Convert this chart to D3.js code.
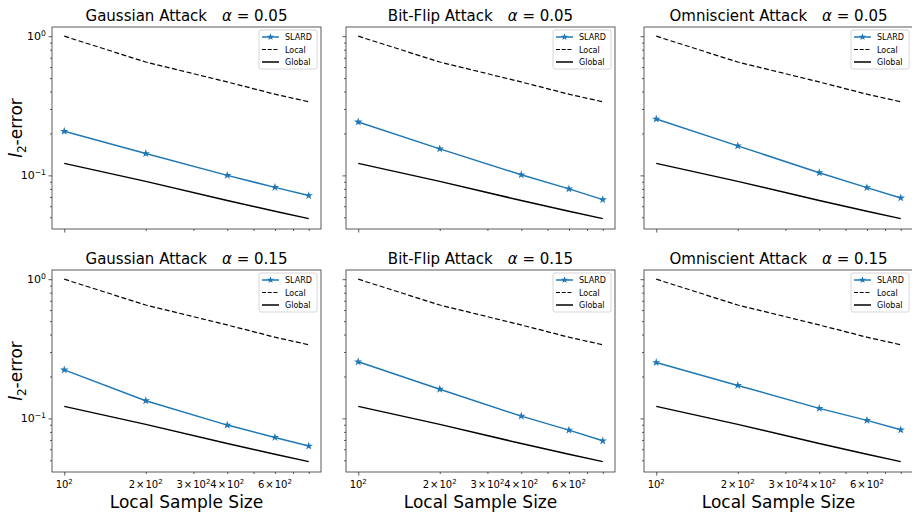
<!DOCTYPE html>
<meta charset="utf-8">
<style>
body { margin: 0; background: #fff; }
text { font-family: "DejaVu Sans", sans-serif; fill: #000; }
</style>
<body>
<script src="https://cdn.jsdelivr.net/npm/d3@7"></script>
<script>

var sampleSizes = [100, 200, 400, 600, 800];
var localErr = [1.0, 0.652, 0.469, 0.383, 0.338];
var globalErr = [0.122, 0.0906, 0.066, 0.0553, 0.0489];

var slardGaussian05 = [0.2075, 0.1436, 0.100, 0.082, 0.0716];
var slardBitFlip05 = [0.242, 0.155, 0.101, 0.080, 0.067];
var slardOmniscient05 = [0.254, 0.163, 0.1045, 0.0817, 0.0689];
var slardGaussian15 = [0.223, 0.134, 0.0895, 0.073, 0.0633];
var slardBitFlip15 = [0.255, 0.162, 0.1038, 0.0824, 0.069];
var slardOmniscient15 = [0.252, 0.1725, 0.118, 0.0968, 0.0828];

var attacks = ["Gaussian Attack", "Bit-Flip Attack", "Omniscient Attack"];
var alphas = ["0.05", "0.15"];
var legendLabels = ["SLARD", "Local", "Global"];

var xMinorTicks = [200, 300, 400, 500, 600, 700, 800];
var xTickLabels = [[100, "10", "2"], [200, "2\u200a\u00d7\u200a10", "2"], [300, "3\u200a\u00d7\u200a10", "2"],
                   [400, "4\u200a\u00d7\u200a10", "2"], [600, "6\u200a\u00d7\u200a10", "2"]];
var yMajorTicks = [0.1, 1];
var yTickLabels = [[1, "10", "0"], [0.1, "10", "\u22121"]];
var yMinorTicks = [0.05, 0.06, 0.07, 0.08, 0.09, 0.2, 0.3, 0.4, 0.5, 0.6, 0.7, 0.8, 0.9];

var slard = [
  [slardGaussian05, slardBitFlip05, slardOmniscient05],
  [slardGaussian15, slardBitFlip15, slardOmniscient15]
];

var width = 912, height = 513;
var lefts = [52, 346, 644], tops = [27, 270];
var w = 269, h = 202;

var svg = d3.select("body").append("svg")
    .attr("width", width)
    .attr("height", height);

// log scales with matplotlib-ish 5% margins
var m = 0.0452;
var x = d3.scaleLog()
    .domain([100 / Math.pow(10, m), 800 * Math.pow(10, m)])
    .range([0, w]);
var y = d3.scaleLog()
    .domain([0.0412, 1.164])
    .range([h, 0]);

var line = d3.line()
    .x(function(d) { return x(d[0]); })
    .y(function(d) { return y(d[1]); });

function pairs(vals) {
  return sampleSizes.map(function(s, i) { return [s, vals[i]]; });
}

function supLabel(sel, base, exp, size) {
  sel.append("tspan").text(base);
  sel.append("tspan").attr("dy", -size * 0.4).attr("font-size", size * 0.7).text(exp);
}

alphas.forEach(function(alpha, r) {
  attacks.forEach(function(attack, c) {
    var g = svg.append("g")
        .attr("transform", "translate(" + lefts[c] + "," + tops[r] + ")");

    // x ticks
    var xAxis = g.append("g").attr("transform", "translate(0," + h + ")");
    xAxis.call(d3.axisBottom(x).tickValues([100]).tickSize(3.5).tickFormat(""));
    xAxis.append("g").call(d3.axisBottom(x).tickValues(xMinorTicks).tickSize(2).tickFormat(""));
    xAxis.selectAll(".domain").remove();
    xAxis.selectAll("line").attr("stroke", "#333").attr("stroke-width", 0.8);

    // y ticks
    var yAxis = g.append("g");
    yAxis.call(d3.axisLeft(y).tickValues(yMajorTicks).tickSize(3.5).tickFormat(""));
    yAxis.append("g").call(d3.axisLeft(y).tickValues(yMinorTicks).tickSize(2).tickFormat(""));
    yAxis.selectAll(".domain").remove();
    yAxis.selectAll("line").attr("stroke", "#333").attr("stroke-width", 0.8);

    if (r === 1) {
      xTickLabels.forEach(function(t) {
        var txt = g.append("text")
            .attr("x", x(t[0]))
            .attr("y", h + 16)
            .attr("text-anchor", "middle")
            .attr("font-size", 10);
        supLabel(txt, t[1], t[2], 10);
      });
      g.append("text")
          .attr("x", w / 2)
          .attr("y", h + 36)
          .attr("text-anchor", "middle")
          .attr("font-size", 17)
          .text("Local Sample Size");
    }
    if (c === 0) {
      yTickLabels.forEach(function(t) {
        var txt = g.append("text")
            .attr("x", -6)
            .attr("y", y(t[0]) + 4)
            .attr("text-anchor", "end")
            .attr("font-size", 11);
        supLabel(txt, t[1], t[2], 11);
      });
      var yl = g.append("text")
          .attr("transform", "translate(-30," + (h / 2) + ") rotate(-90)")
          .attr("text-anchor", "middle")
          .attr("font-size", 17);
      yl.append("tspan").attr("font-style", "italic").text("l");
      yl.append("tspan").attr("dy", 4).attr("font-size", 12).text("2");
      yl.append("tspan").attr("dy", -4).text("-error");
    }

    // title
    var title = g.append("text")
        .attr("x", w / 2)
        .attr("y", -6)
        .attr("text-anchor", "middle")
        .attr("font-size", 15);
    title.append("tspan").text(attack + "\u2003");
    title.append("tspan").attr("font-style", "italic").text("\u03b1");
    title.append("tspan").text(" = " + alpha);

    // lines
    g.append("path").datum(pairs(localErr))
        .attr("d", line).attr("fill", "none")
        .attr("stroke", "#000").attr("stroke-width", 1.2)
        .attr("stroke-dasharray", "5,2.5");
    g.append("path").datum(pairs(globalErr))
        .attr("d", line).attr("fill", "none")
        .attr("stroke", "#000").attr("stroke-width", 1.5);
    g.append("path").datum(pairs(slard[r][c]))
        .attr("d", line).attr("fill", "none")
        .attr("stroke", "#1f77b4").attr("stroke-width", 1.5);
    g.selectAll(".star").data(pairs(slard[r][c])).enter().append("path")
        .attr("class", "star")
        .attr("transform", function(d) { return "translate(" + x(d[0]) + "," + y(d[1]) + ")"; })
        .attr("d", d3.symbol().type(d3.symbolStar).size(22))
        .attr("fill", "#1f77b4");

    // frame
    g.append("rect")
        .attr("width", w).attr("height", h)
        .attr("fill", "none").attr("stroke", "#333").attr("stroke-width", 0.8);

    // legend
    var lg = g.append("g").attr("transform", "translate(" + (w - 62) + ",3)");
    lg.append("rect")
        .attr("width", 58).attr("height", 39).attr("rx", 2)
        .attr("fill", "#fff").attr("fill-opacity", 0.8)
        .attr("stroke", "#ccc").attr("stroke-width", 0.8);
    legendLabels.forEach(function(lab, i) {
      var ly = 7 + i * 12.5;
      var ln = lg.append("line")
          .attr("x1", 3).attr("x2", 20).attr("y1", ly).attr("y2", ly)
          .attr("stroke", i === 0 ? "#1f77b4" : "#000")
          .attr("stroke-width", i === 1 ? 1.2 : 1.5);
      if (i === 1) ln.attr("stroke-dasharray", "4,1.7");
      if (i === 0) {
        lg.append("path")
            .attr("transform", "translate(11.5," + ly + ")")
            .attr("d", d3.symbol().type(d3.symbolStar).size(16))
            .attr("fill", "#1f77b4");
      }
      lg.append("text")
          .attr("x", 26).attr("y", ly + 3)
          .attr("font-size", 8)
          .text(lab);
    });
  });
});
</script>
</body>
